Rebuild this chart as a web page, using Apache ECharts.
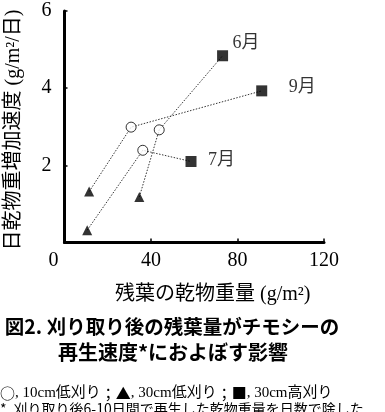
<!DOCTYPE html>
<html><head><meta charset="utf-8">
<script src="https://cdn.jsdelivr.net/npm/echarts@6/dist/echarts.min.js"></script>
<style>html,body{margin:0;padding:0;background:#fff}#c{width:385px;height:412px}</style>
</head><body><div id="c"></div>
<script>
// Data
var months = ['6月', '7月', '9月'];
var triangle30Low = [[34.6, 1.18], [10.5, 0.32], [11.4, 1.32]];   // ▲ 30cm低刈り
var circle10Low   = [[43.8, 2.92], [36.2, 2.39], [30.8, 2.99]];   // ○ 10cm低刈り
var square30High  = [[73.1, 4.84], [58.5, 2.10], [91.2, 3.93]];   // ■ 30cm高刈り
var xTicks = [0, 40, 80, 120];
var yTicks = [0, 2, 4, 6];

var SERIF = "'Liberation Serif','Noto Sans CJK JP',serif";
var GOTH = "'Noto Sans CJK JP',sans-serif";
var labelOffsets = {'6月': [10, -12], '7月': [17, -1], '9月': [27, -4]};

var series = [];
months.forEach(function (m, i) {
  series.push({
    type: 'line', data: [triangle30Low[i], circle10Low[i], square30High[i]],
    showSymbol: false, symbol: 'none', silent: true, z: 1,
    lineStyle: {color: '#333', width: 1, type: [1.5, 1.5]}
  });
});
series.push({
  type: 'scatter', data: triangle30Low, symbol: 'triangle', symbolSize: [10, 10], z: 3,
  itemStyle: {color: '#000'}
});
series.push({
  type: 'scatter', data: circle10Low, symbol: 'circle', symbolSize: 10, z: 3,
  itemStyle: {color: '#fff', borderColor: '#000', borderWidth: 1}
});
series.push({
  type: 'scatter', z: 3,
  data: square30High.map(function (p, i) {
    return {value: p, label: {show: true, formatter: months[i], position: 'inside',
      offset: labelOffsets[months[i]], align: 'left'}};
  }),
  symbol: 'rect', symbolSize: 11, itemStyle: {color: '#000'},
  label: {fontFamily: SERIF, fontSize: 18, color: '#000'}
});

var chart = echarts.init(document.getElementById('c'), null, {renderer: 'canvas'});
chart.setOption({
  animation: false,
  grid: {left: 64.5, right: 61, top: 11, bottom: 169.5, containLabel: false},
  xAxis: {
    type: 'value', min: xTicks[0], max: xTicks[xTicks.length - 1], interval: xTicks[1] - xTicks[0],
    splitLine: {show: false},
    axisLine: {lineStyle: {color: '#000', width: 3}},
    axisTick: {inside: true, length: 4, lineStyle: {color: '#000', width: 1.5}},
    axisLabel: {
      margin: 8, fontFamily: SERIF, fontSize: 20, color: '#000',
      formatter: function (v) { return v === 0 ? '{z|0}' : String(v); },
      rich: {z: {fontFamily: SERIF, fontSize: 20, color: '#000', padding: [0, 22, 0, 0]}}
    }
  },
  yAxis: {
    type: 'value', min: yTicks[0], max: yTicks[yTicks.length - 1], interval: yTicks[1] - yTicks[0],
    splitLine: {show: false},
    axisLine: {lineStyle: {color: '#000', width: 3}},
    axisTick: {inside: true, length: 3, lineStyle: {color: '#000', width: 1.5}},
    axisLabel: {
      margin: 13, fontFamily: SERIF, fontSize: 20, color: '#000',
      formatter: function (v) { return v === 0 ? '' : String(v); }
    }
  },
  graphic: [
    {type: 'text', x: 13.5, y: 130, rotation: Math.PI / 2,
      style: {text: '日乾物重増加速度 (g/m²/日)', font: '20px ' + SERIF, fill: '#000',
        textAlign: 'center', textVerticalAlign: 'middle'}},
    {type: 'text', x: 115, y: 295,
      style: {text: '残葉の乾物重量 (g/m²)', font: '20px ' + SERIF, fill: '#000',
        textAlign: 'left', textVerticalAlign: 'middle'}},
    {type: 'text', x: 172, y: 327,
      style: {text: '図2. 刈り取り後の残葉量がチモシーの', font: 'bold 19.5px ' + GOTH, fill: '#000',
        textAlign: 'center', textVerticalAlign: 'middle'}},
    {type: 'text', x: 173, y: 352,
      style: {text: '再生速度*におよぼす影響', font: 'bold 20px ' + GOTH, fill: '#000',
        textAlign: 'center', textVerticalAlign: 'middle'}},
    {type: 'text', x: 0, y: 393,
      style: {text: '{s|○}, 10cm低刈り{s|；}{s|▲}, 30cm低刈り{s|；}{s|■}, 30cm高刈り',
        font: '15px ' + SERIF, fill: '#000', textAlign: 'left', textVerticalAlign: 'middle',
        rich: {s: {fontFamily: GOTH, fontSize: 15, fill: '#000'}}}},
    {type: 'text', x: 0, y: 409,
      style: {text: '*, 刈り取り後6-10日間で再生した乾物重量を日数で除した', font: '14px ' + GOTH, fill: '#000',
        textAlign: 'left', textVerticalAlign: 'middle'}}
  ],
  series: series
});
</script></body></html>
